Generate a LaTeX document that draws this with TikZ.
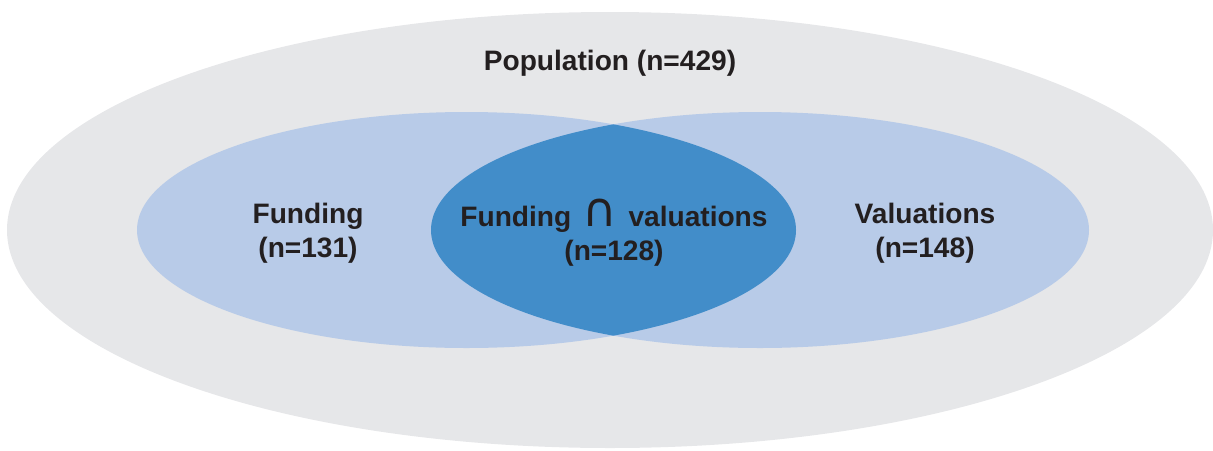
\documentclass[tikz,border=0pt]{standalone}
\usepackage{fontspec}
\setmainfont{Liberation Sans}
\newfontfamily\capfont{DejaVu Sans}
\usepackage{tikz}
\usepackage{xcolor}
\usetikzlibrary{positioning}

\definecolor{popgrey}{HTML}{E6E7E9}
\definecolor{setblue}{HTML}{B8CBE8}
\definecolor{bothblue}{HTML}{428DC9}
\definecolor{labelink}{HTML}{231F20}

\newcommand{\capsym}{\hspace{0.4em}{\capfont\mdseries\fontsize{27}{19.5}\selectfont ∩}\hspace{0.4em}}

\begin{document}
\begin{tikzpicture}[x=0.02cm, y=-0.02cm, every node/.style={text=labelink, font=\fontsize{16}{19.5}\selectfont\bfseries, align=center}]
                        \useasboundingbox (0,0) rectangle (1213,450);

                        \fill[popgrey] (610,230) ellipse [x radius=603, y radius=218];
                        \fill[setblue] (466.5,230) ellipse [x radius=329.5, y radius=118];
                        \fill[setblue] (760,230) ellipse [x radius=329, y radius=118];
                        \begin{scope}
                            \clip (466.5,230) ellipse [x radius=329.5, y radius=118];
                            \fill[bothblue] (760,230) ellipse [x radius=329, y radius=118];
                        \end{scope}

                        \node (pop) at (610,63) {Population (n=429)};
                        \node (fund) at (308,233) {Funding\\(n=131)};
                        \node (val) at (925,233) {Valuations\\(n=148)};
                        \node (both) at (614,233) {Funding\capsym valuations\\(n=128)};
                    \end{tikzpicture}
\end{document}
